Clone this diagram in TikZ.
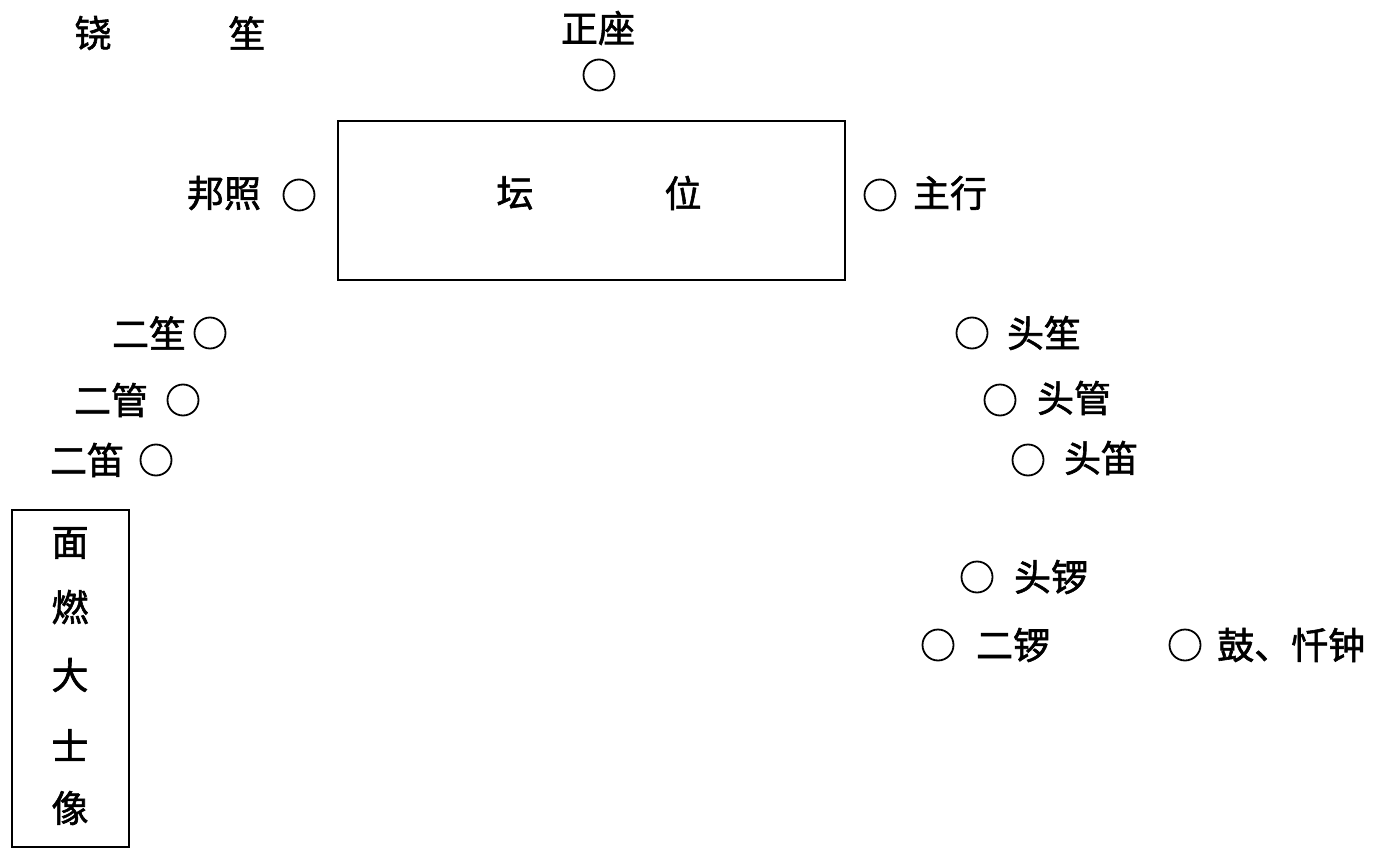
\documentclass[tikz,border=0pt]{standalone}
\usepackage{fontspec}
\setmainfont{Noto Sans CJK SC}[AutoFakeBold=1.6]
\begin{document}
\begin{tikzpicture}[x=1pt,y=-1pt,
  lbl/.style={inner sep=0pt,font=\fontsize{37}{40}\selectfont\bfseries},
  seat/.style={draw,line width=1.8pt,circle,minimum size=31pt,inner sep=0pt},
  frame/.style={draw,line width=1.8pt}]
\useasboundingbox (0,0) rectangle (1379,856);
% top labels
\node[lbl] (nao) at (93,33) {铙};
\node[lbl] (sheng) at (247,33) {笙};
\node[lbl] (zz) at (598,28) {正座};
\node[seat] (czz) at (599,75) {};
% altar
\node[frame,minimum width=507pt,minimum height=159pt,inner sep=0pt] (altar) at (591.5,200.5) {};
\node[lbl] (tan) at (515,193) {坛};
\node[lbl] (wei) at (683,193) {位};
% sides of altar
\node[lbl] (bz) at (224,193) {邦照};
\node[seat] (cbz) at (299,195) {};
\node[seat] (czx) at (880,195) {};
\node[lbl] (zx) at (950,193) {主行};
% left group
\node[lbl] (es) at (149,333) {二笙};
\node[seat] (ces) at (210,333) {};
\node[lbl] (eg) at (111,400) {二管};
\node[seat] (ceg) at (183,400) {};
\node[lbl] (ed) at (87,460) {二笛};
\node[seat] (ced) at (156,460) {};
% image box
\node[frame,minimum width=117pt,minimum height=337pt,inner sep=0pt] (img) at (70.5,678.5) {};
\node[lbl] (m1) at (70,543) {面};
\node[lbl] (m2) at (70,607) {燃};
\node[lbl] (m3) at (70,675) {大};
\node[lbl] (m4) at (70,745) {士};
\node[lbl] (m5) at (70,808) {像};
% right group
\node[seat] (cts) at (972,333) {};
\node[lbl] (ts) at (1044,333) {头笙};
\node[seat] (ctg) at (1000,400) {};
\node[lbl] (tg) at (1074,398) {头管};
\node[seat] (ctd) at (1028,460) {};
\node[lbl] (td) at (1101,458) {头笛};
\node[seat] (ctl) at (977,577) {};
\node[lbl] (tl) at (1051,577) {头锣};
\node[seat] (cel) at (938,645) {};
\node[lbl] (el) at (1013,645) {二锣};
\node[seat] (cgu) at (1185,645) {};
\node[lbl,anchor=west] (gu) at (1217,645) {鼓、忏钟};
\end{tikzpicture}
\end{document}
